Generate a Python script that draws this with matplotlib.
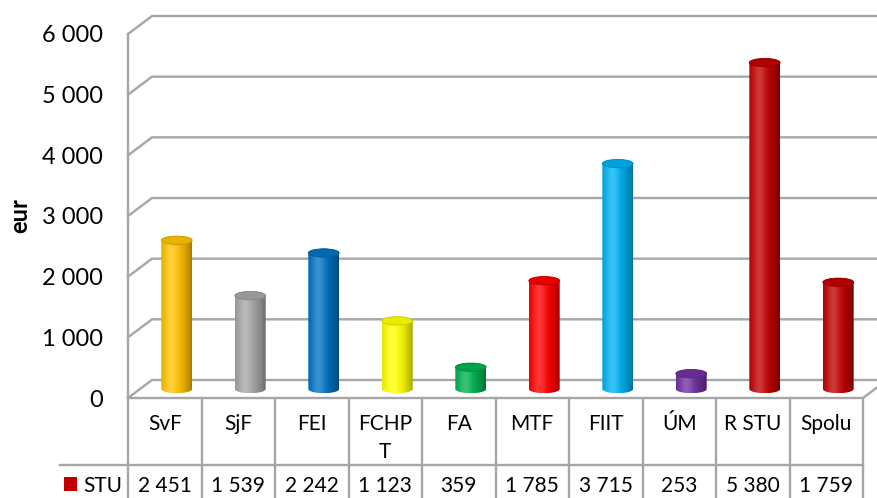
import numpy as np
import matplotlib.pyplot as plt
from matplotlib.patches import Ellipse, PathPatch, Rectangle
from matplotlib.path import Path
from matplotlib.colors import to_rgb

plt.rcParams['font.family'] = ['Lato', 'DejaVu Sans']

categories = ["SvF", "SjF", "FEI", "FCHPT", "FA", "MTF", "FIIT", "ÚM", "R STU", "Spolu"]
values = [2451, 1539, 2242, 1123, 359, 1785, 3715, 253, 5380, 1759]
bar_colors = ["#FFC000", "#A5A5A5", "#0070C0", "#FFFF00", "#00B050",
              "#FF0000", "#00B0F0", "#7030A0", "#C00000", "#C00000"]
series_name = "STU"
series_color = "#C00000"
yticks = [0, 1000, 2000, 3000, 4000, 5000, 6000]
ylabel = "eur"

W, H = 877, 498
GRID = "#A6A6A6"


def fmt(v):
    return f"{v:,}".replace(",", " ")


fig = plt.figure(figsize=(W / 100, H / 100), dpi=100)
ax = fig.add_axes([128 / W, (H - 398) / H, 735 / W, 364 / H])
ax.set_xlim(-0.5, len(categories) - 0.5)
ax.set_ylim(yticks[0], yticks[-1])

# pixel -> data conversions for the fake 3D depth
px_x = (len(categories)) / 735
px_y = (yticks[-1] - yticks[0]) / 364
DX, DY = 24 * px_x, 18 * px_y
x0, x1 = -0.5, len(categories) - 0.5

# back wall grid + left side wall
for t in yticks:
    ax.plot([x0, x0 + DX, x1 + DX + 1], [t, t + DY, t + DY], color=GRID, lw=1.7,
            clip_on=False, zorder=1, solid_joinstyle='miter')
# floor front edge and right diagonal
ax.plot([x0, x1, x1 + DX], [0, 0, DY], color=GRID, lw=1.7, clip_on=False, zorder=1)

ax.set_xticks([])
ax.set_yticks(yticks, [fmt(t) for t in yticks], fontsize=17)
ax.tick_params(axis='y', length=0, pad=18)
for side in ["top", "right", "bottom"]:
    ax.spines[side].set_visible(False)
ax.spines["left"].set_color(GRID)
ax.spines["left"].set_linewidth(1.7)
ax.set_ylabel(ylabel, fontsize=17, fontweight='bold', labelpad=8)
ax.patch.set_visible(False)


def shade(color, n=64):
    base = np.array(to_rgb(color))
    t = np.linspace(0, 1, n)
    light = 0.22 * np.exp(-((t - 0.33) / 0.22) ** 2)
    dark = 0.35 * (np.abs(t - 0.35) / 0.65) ** 2
    rgb = base * (1 - light[:, None]) + light[:, None]
    rgb = rgb * (1 - dark[:, None])
    return rgb[None, :, :]


# cylinders sit half-way into the depth
bw = 0.42
ry = 4.2 * px_y
theta_lo = np.linspace(np.pi, 2 * np.pi, 40)
theta_hi = np.linspace(0, np.pi, 40)
for i, (v, c) in enumerate(zip(values, bar_colors)):
    cx = i + DX / 2
    y0 = DY / 2
    top = y0 + v
    xs = np.concatenate([cx + bw / 2 * np.cos(theta_lo), cx + bw / 2 * np.cos(theta_hi)])
    ys = np.concatenate([y0 + ry * np.sin(theta_lo), top + ry * np.sin(theta_hi)])
    body = PathPatch(Path(np.column_stack([xs, ys]), closed=False),
                     facecolor='none', edgecolor='none')
    ax.add_patch(body)
    im = ax.imshow(shade(c), extent=(cx - bw / 2, cx + bw / 2, y0 - ry, top + ry),
                   aspect='auto', interpolation='bilinear', zorder=3)
    im.set_clip_path(body)
    base = np.array(to_rgb(c))
    ax.add_patch(Ellipse((cx, top), bw, 2 * ry, facecolor=base * 0.92,
                         edgecolor=base * 0.8, lw=0.6, zorder=4))

ax.set_xlim(x0, x1)
ax.set_ylim(yticks[0], yticks[-1])

# data table under the plot
tab = fig.add_axes([128 / W, 0, 735 / W, 100 / H])
tab.set_xlim(x0, x1)
tab.set_ylim(100, 0)
tab.axis('off')
col_px = 73.5
left = x0 - 68 / col_px
tab.plot([left, x1], [67, 67], color=GRID, lw=1.7, clip_on=False)
for k in range(len(categories) + 1):
    tab.plot([x0 + k, x0 + k], [0, 100], color=GRID, lw=1.7, clip_on=False)

renderer = fig.canvas.get_renderer()
limit = col_px - 12
for i, name in enumerate(categories):
    # wrap a header that does not fit its cell, one baseline per line
    lines = [name]
    t = tab.text(i, 32, name, ha='center', va='baseline', fontsize=15)
    if t.get_window_extent(renderer).width > limit:
        k = len(name)
        while k > 1:
            k -= 1
            t.set_text(name[:k])
            if t.get_window_extent(renderer).width <= limit:
                break
        lines = [name[:k], name[k:]]
        t.remove()
        for j, part in enumerate(lines):
            tab.text(i, 32 + 28 * j, part, ha='center', va='baseline', fontsize=15)
    tab.text(i, 94, fmt(values[i]), ha='center', va='baseline', fontsize=15)

tab.add_patch(Rectangle((x0 - 64 / col_px, 79), 13 / col_px, 14,
                        facecolor=series_color, edgecolor='none', clip_on=False))
tab.text(x0 - 45 / col_px, 94, series_name, ha='left', va='baseline', fontsize=15)

fig.savefig("out.png", dpi=100)
